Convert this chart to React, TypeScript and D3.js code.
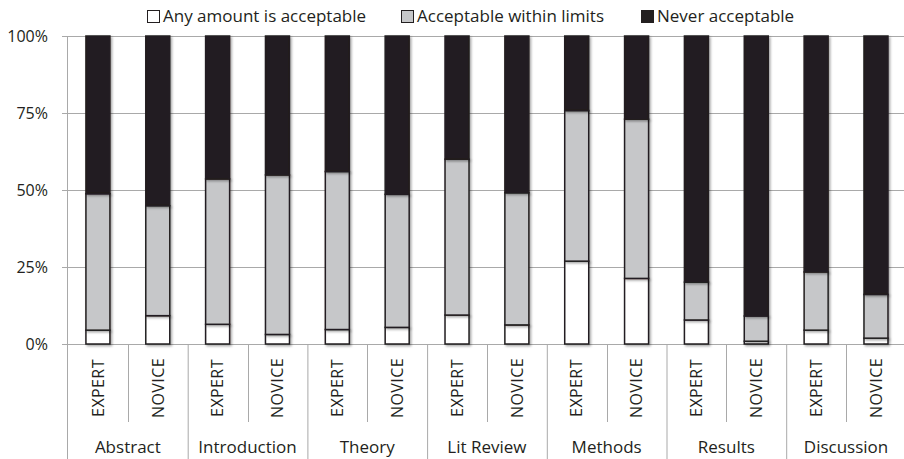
import React from "react";
import * as d3 from "d3";

const groups = ["Abstract", "Introduction", "Theory", "Lit Review", "Methods", "Results", "Discussion"];
const levels = ["EXPERT", "NOVICE"];
const seriesNames = ["Any amount is acceptable", "Acceptable within limits", "Never acceptable"];
const anyAmount = [4.5, 9.2, 6.4, 3.1, 4.7, 5.4, 9.4, 6.2, 26.9, 21.3, 7.8, 0.9, 4.5, 1.9];
const withinLimits = [44.3, 35.7, 47.2, 51.8, 51.3, 43.2, 50.6, 42.9, 48.9, 51.7, 12.3, 8.2, 18.9, 14.2];
const neverAcceptable = [51.2, 55.1, 46.4, 45.1, 44.0, 51.4, 40.0, 50.9, 24.2, 27.0, 79.9, 90.9, 76.6, 83.9];
const yTicks = [0, 25, 50, 75, 100];

const W = 904;
const H = 459;
const FONT = "'Open Sans', sans-serif";
const INK = "#231f20";
const GRID = "#a9a9a9";
const COLORS = ["#ffffff", "#c6c7c9", "#231f20"];

export default function App() {
  const left = 68;
  const step = 59.85;
  const top = 36;
  const bottom = 344;

  const keys = groups.flatMap((g) => levels.map((l) => `${g}|${l}`));
  const rows = keys.map((k, i) => ({
    key: k,
    level: k.split("|")[1],
    v0: anyAmount[i],
    v1: withinLimits[i],
    v2: neverAcceptable[i],
  }));
  const x = d3.scaleBand<string>().domain(keys).range([left, left + step * keys.length]).padding(0);
  const gx = d3.scaleBand<string>().domain(groups).range([left, left + step * keys.length]).padding(0);
  const y = d3.scaleLinear().domain([0, 100]).range([bottom, top]);
  const stack = d3.stack<any>().keys(["v0", "v1", "v2"]);
  const stacked = stack(rows);
  const barW = 24;

  const legendX = [147, 401, 641];

  return (
    <svg
      width={W}
      height={H}
      style={{ position: "absolute", left: 0, top: 0, background: "#fff" }}
      fontFamily={FONT}
    >
      <defs>
        <filter id="sh" x="-30%" y="-10%" width="160%" height="120%">
          <feDropShadow dx="1.5" dy="1.5" stdDeviation="1.2" floodColor="#000" floodOpacity="0.35" />
        </filter>
      </defs>
      <rect width={W} height={H} fill="#fff" />
      {/* legend */}
      {seriesNames.map((s, i) => (
        <g key={s}>
          <rect x={legendX[i] + 0.5} y={10.5} width={12} height={12} fill={COLORS[i]} stroke={INK} strokeWidth={1} />
          <text x={legendX[i] + 16} y={22} fontSize={17} fill={INK}>
            {s}
          </text>
        </g>
      ))}
      {/* gridlines */}
      {yTicks.map((t) => (
        <g key={t}>
          <line x1={62} x2={W} y1={Math.round(y(t)) + 0.5} y2={Math.round(y(t)) + 0.5} stroke={GRID} strokeWidth={1} />
          <text x={48} y={y(t)} dy="0.36em" textAnchor="end" fontSize={16} fill={INK}>
            {t}%
          </text>
        </g>
      ))}
      {/* axis vertical line */}
      <line x1={left - 0.5} x2={left - 0.5} y1={top} y2={H} stroke={GRID} strokeWidth={1} />
      {/* separators */}
      {groups.map((g) => {
        const gx0 = gx(g)!;
        return (
          <g key={g}>
            <line x1={gx0 + gx.bandwidth() + 0.5} x2={gx0 + gx.bandwidth() + 0.5} y1={bottom} y2={H} stroke={GRID} />
            <line
              x1={Math.round(gx0 + gx.bandwidth() / 2) + 0.5}
              x2={Math.round(gx0 + gx.bandwidth() / 2) + 0.5}
              y1={bottom}
              y2={422}
              stroke={GRID}
            />
            <text x={gx0 + gx.bandwidth() / 2} y={453} textAnchor="middle" fontSize={17} fill={INK}>
              {g}
            </text>
          </g>
        );
      })}
      {/* bars */}
      {stacked.map((layer, si) => (
        <g key={si} filter="url(#sh)">
          {layer.map((d, i) => {
            const cx = x(keys[i])! + x.bandwidth() / 2;
            return (
              <rect
                key={i}
                x={cx - barW / 2}
                y={y(d[1])}
                width={barW}
                height={y(d[0]) - y(d[1])}
                fill={COLORS[si]}
                stroke={INK}
                strokeWidth={1.5}
              />
            );
          })}
        </g>
      ))}
      {/* level labels */}
      {rows.map((r) => {
        const cx = x(r.key)! + x.bandwidth() / 2;
        return (
          <text
            key={r.key}
            transform={`translate(${cx},388) rotate(-90)`}
            textAnchor="middle"
            dy="0.36em"
            fontSize={16}
            letterSpacing={0.4}
            fill={INK}
          >
            {r.level}
          </text>
        );
      })}
    </svg>
  );
}
